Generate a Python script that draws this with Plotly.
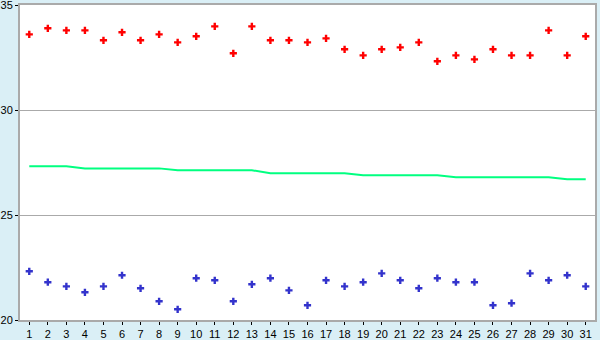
import plotly.graph_objects as go

days = list(range(1, 32))
high = [33.60, 33.89, 33.79, 33.79, 33.32, 33.70, 33.32, 33.60, 33.22, 33.51,
        33.98, 32.70, 33.98, 33.32, 33.32, 33.22, 33.41, 32.89, 32.60, 32.89,
        32.98, 33.22, 32.32, 32.60, 32.41, 32.89, 32.60, 32.60, 33.79, 32.60, 33.51]
low = [22.32, 21.80, 21.60, 21.32, 21.60, 22.13, 21.51, 20.89, 20.51, 21.99,
       21.89, 20.89, 21.70, 21.99, 21.41, 20.70, 21.89, 21.60, 21.80, 22.22,
       21.89, 21.51, 21.99, 21.80, 21.80, 20.70, 20.80, 22.22, 21.89, 22.13, 21.60]
mean = [27.32, 27.32, 27.32, 27.22, 27.22, 27.22, 27.22, 27.22, 27.13, 27.13,
        27.13, 27.13, 27.13, 26.99, 26.99, 26.99, 26.99, 26.99, 26.89, 26.89,
        26.89, 26.89, 26.89, 26.80, 26.80, 26.80, 26.80, 26.80, 26.80, 26.70, 26.70]
y_ticks = [20, 25, 30, 35]

fig = go.Figure()
fig.add_trace(go.Scatter(x=days, y=mean, mode="lines",
                         line=dict(color="#00ff80", width=2), hoverinfo="skip"))
fig.add_trace(go.Scatter(x=days, y=high, mode="markers",
                         marker=dict(symbol="cross", size=6, color="#ff0000",
                                     line=dict(width=0))))
fig.add_trace(go.Scatter(x=days, y=low, mode="markers",
                         marker=dict(symbol="cross", size=6, color="#3333cc",
                                     line=dict(width=0))))

fig.update_layout(
    width=600, height=340,
    margin=dict(l=20, r=5, t=5, b=20),
    paper_bgcolor="#daeff6",
    plot_bgcolor="#ffffff",
    showlegend=False,
    font=dict(family="Liberation Sans", size=11, color="#000000"),
    xaxis=dict(range=[0.5, 31.5], tickmode="array", tickvals=days,
               ticktext=[str(d) for d in days], ticks="outside", ticklen=3,
               tickcolor="#000000", showgrid=False, zeroline=False,
               showline=True, linecolor="#aaaaaa", linewidth=2, mirror=True,
               fixedrange=True, automargin=False, ticklabelstandoff=0,
               ticklabeloverflow="allow"),
    yaxis=dict(range=[20, 35], tickmode="array", tickvals=y_ticks,
               ticks="outside", ticklen=3, tickcolor="#000000",
               showgrid=True, gridcolor="#aaaaaa", gridwidth=1, zeroline=False,
               showline=True, linecolor="#aaaaaa", linewidth=2, mirror=True,
               fixedrange=True, automargin=False, ticklabelstandoff=0,
               ticklabeloverflow="allow"),
)
fig.write_html("out.html", config={"displayModeBar": False})
